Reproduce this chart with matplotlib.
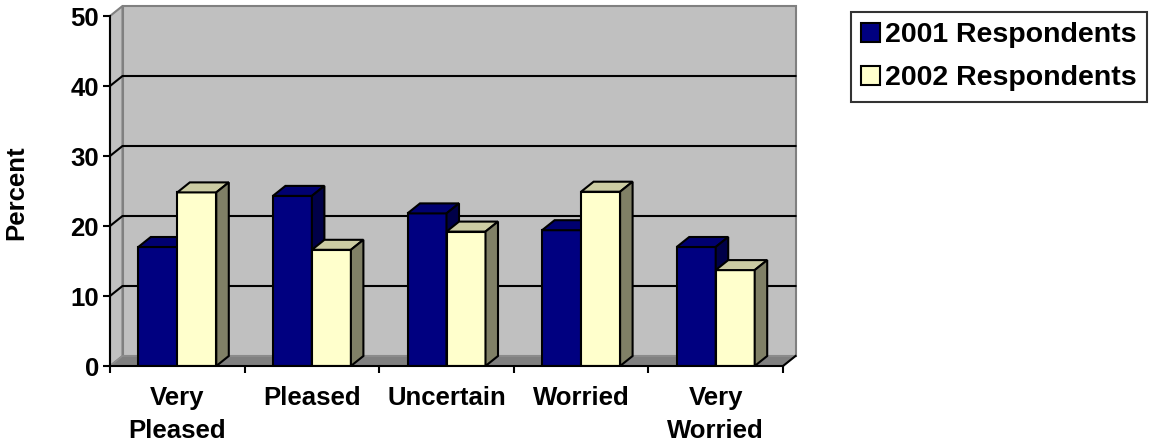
import matplotlib
matplotlib.use('Agg')
import matplotlib.pyplot as plt
from matplotlib.patches import Polygon, Patch

categories = ['Very\nPleased', 'Pleased', 'Uncertain', 'Worried', 'Very\nWorried']
resp_2001 = [17.0, 24.3, 21.8, 19.4, 17.0]
resp_2002 = [24.8, 16.6, 19.2, 24.9, 13.7]
series_names = ['2001 Respondents', '2002 Respondents']
yticks = [0, 10, 20, 30, 40, 50]

plt.rcParams['font.family'] = ['Liberation Sans', 'DejaVu Sans']
plt.rcParams['font.weight'] = 'bold'

# face colours: front, top, side
blue = ('#000080', '#000070', '#000048')
yellow = ('#FFFFCC', '#CCCCA3', '#808066')

W, H = 1155, 444
fig = plt.figure(figsize=(W / 100, H / 100), dpi=100)
ax = fig.add_axes([110 / W, (H - 366) / H, 673 / W, 350 / H])
ax.set_xlim(-0.5, 4.5)
ax.set_ylim(0, 50)

# depth of the fake 3d, in data units (about 12.5 px right, 10 px up)
dx = 12.5 / (673 / 5)
dy = 10 / 7.0
x0, x1 = -0.5, 4.5

# walls and floor
ax.add_patch(Polygon([(x0 + dx, dy), (x1 + dx, dy), (x1 + dx, 50 + dy), (x0 + dx, 50 + dy)],
                     closed=True, fc='#C0C0C0', ec='#808080', lw=1.5, zorder=0, clip_on=False))
ax.add_patch(Polygon([(x0, 0), (x0 + dx, dy), (x0 + dx, 50 + dy), (x0, 50)],
                     closed=True, fc='#C0C0C0', ec='#808080', lw=1.5, zorder=0, clip_on=False))
ax.add_patch(Polygon([(x0, 0), (x1, 0), (x1 + dx, dy), (x0 + dx, dy)],
                     closed=True, fc='#808080', ec='#909090', lw=1, zorder=1, clip_on=False))
ax.plot([x1, x1 + dx], [0, dy], color='black', lw=1.5, zorder=1, clip_on=False)

for v in yticks[1:-1]:
    ax.plot([x0, x0 + dx, x1 + dx], [v, v + dy, v + dy], color='black', lw=1.5,
            zorder=1, clip_on=False)

bw = 39 / (673 / 5)
z = 3
for i in range(len(categories)):
    for xs, h, cols in [(i - bw, resp_2001[i], blue), (i, resp_2002[i], yellow)]:
        ax.bar(xs, h, width=bw, align='edge', color=cols[0], edgecolor='black',
               lw=1.5, zorder=z)
        ax.add_patch(Polygon([(xs, h), (xs + bw, h), (xs + bw + dx, h + dy), (xs + dx, h + dy)],
                             closed=True, fc=cols[1], ec='black', lw=1.5, zorder=z, clip_on=False))
        ax.add_patch(Polygon([(xs + bw, 0), (xs + bw + dx, dy), (xs + bw + dx, h + dy), (xs + bw, h)],
                             closed=True, fc=cols[2], ec='black', lw=1.5, zorder=z, clip_on=False))
        z += 1

for s in ['top', 'right']:
    ax.spines[s].set_visible(False)
for s in ['left', 'bottom']:
    ax.spines[s].set_linewidth(1.5)
    ax.spines[s].set_zorder(50)
ax.set_facecolor('none')

ax.set_yticks(yticks)
ax.set_yticklabels([str(v) for v in yticks], fontsize=18.5, fontweight='bold')
ax.tick_params(axis='y', direction='out', length=5, width=1.5, pad=3)

ax.set_xticks([x0 + k for k in range(6)])
ax.set_xticklabels([])
ax.tick_params(axis='x', which='major', direction='out', length=5, width=1.5)
ax.set_xticks(range(len(categories)), minor=True)
ax.set_xticklabels(categories, minor=True, fontsize=18.5, fontweight='bold', linespacing=1.45)
ax.tick_params(axis='x', which='minor', length=0, pad=14.5)

fig.text(16 / W, 1 - 193 / H, 'Percent', rotation=90, ha='center', va='center',
         fontsize=18.5, fontweight='bold')

handles = [Patch(fc=blue[0], ec='black', lw=1.5), Patch(fc=yellow[0], ec='black', lw=1.5)]
leg = fig.legend(handles, series_names, loc='upper left', bbox_to_anchor=(851 / W, 1 - 12 / H),
                 borderaxespad=0, prop={'weight': 'bold', 'size': 20.5},
                 frameon=True, fancybox=False, shadow=False, handlelength=0.65,
                 handleheight=0.65, handletextpad=0.18, labelspacing=0.6, borderpad=0.36)
leg.get_frame().set_edgecolor('black')
leg.get_frame().set_linewidth(1.5)

fig.savefig('out.png', dpi=100)
